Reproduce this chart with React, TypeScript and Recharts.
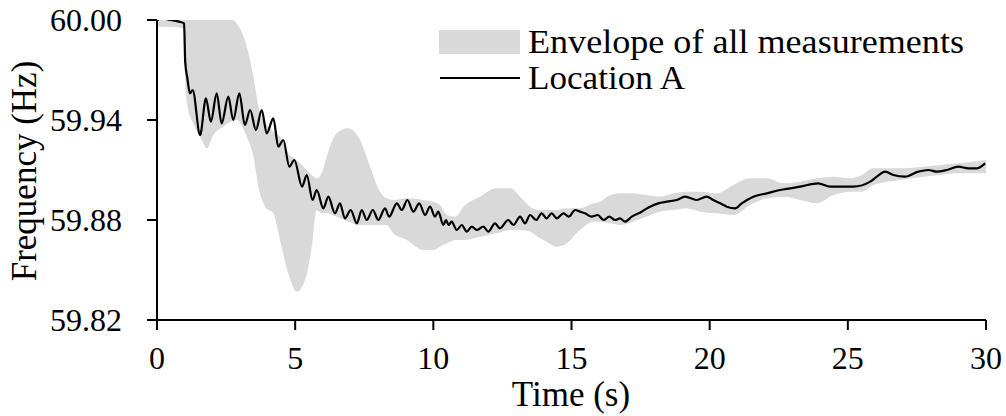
import { ComposedChart, Area, Line, XAxis, YAxis } from 'recharts';

// frequency trace recorded at one site (time in s, frequency in Hz)
const lineT = [
  0, 0.17, 0.5, 0.8, 0.98, 1.02, 1.1, 1.19, 1.29, 1.56, 1.77, 1.95, 2.16, 2.34, 2.58, 2.76, 2.98, 3.18, 3.37, 3.58,
  3.79, 3.97, 4.21, 4.39, 4.57, 4.79, 4.97, 5.25, 5.42, 5.63, 5.78, 6.02, 6.2, 6.44, 6.62, 6.8, 7.01, 7.23, 7.41, 7.59,
  7.81, 8.01, 8.25, 8.4, 8.68, 8.86, 9.06, 9.28, 9.49, 9.7, 9.88, 10.06, 10.18, 10.36, 10.46, 10.55, 10.66, 10.85, 11.03, 11.21,
  11.39, 11.57, 11.81, 11.99, 12.23, 12.41, 12.71, 12.9, 13.14, 13.32, 13.5, 13.72, 13.92, 14.1, 14.28, 14.47, 14.71, 14.9, 15.13, 15.31,
  15.49, 15.73, 15.95, 16.16, 16.37, 16.58, 16.75, 16.94, 17.18, 17.54, 17.84, 18.14, 18.45, 18.81, 19.11, 19.53, 19.89, 20.13, 20.38, 20.62,
  20.92, 21.16, 21.58, 22.07, 22.55, 22.91, 23.27, 23.93, 24.36, 24.72, 25.2, 25.81, 26.05, 26.35, 26.65, 27.07, 27.55, 27.92, 28.22, 28.58,
  29.0, 29.36, 29.66, 29.97,
];
const lineF = [
  60.0, 60.001, 60.0, 59.999, 59.998, 59.975, 59.965, 59.956, 59.958, 59.931, 59.953, 59.939, 59.956, 59.938, 59.954, 59.94, 59.956, 59.937, 59.946, 59.934,
  59.946, 59.932, 59.941, 59.924, 59.928, 59.912, 59.916, 59.9, 59.907, 59.892, 59.898, 59.887, 59.894, 59.884, 59.89, 59.881, 59.886, 59.878, 59.886, 59.88,
  59.886, 59.88, 59.887, 59.882, 59.89, 59.886, 59.892, 59.885, 59.89, 59.883, 59.888, 59.882, 59.885, 59.877, 59.88, 59.877, 59.879, 59.874, 59.877, 59.873,
  59.876, 59.874, 59.876, 59.873, 59.878, 59.875, 59.88, 59.877, 59.882, 59.878, 59.883, 59.88, 59.884, 59.881, 59.884, 59.881, 59.884, 59.882, 59.886, 59.885,
  59.884, 59.882, 59.883, 59.88, 59.882, 59.88, 59.881, 59.879, 59.882, 59.885, 59.888, 59.89, 59.891, 59.892, 59.894, 59.892, 59.894, 59.892, 59.89, 59.888,
  59.887, 59.89, 59.894, 59.896, 59.898, 59.899, 59.9, 59.902, 59.9, 59.9, 59.9, 59.903, 59.906, 59.909, 59.907, 59.906, 59.909, 59.91, 59.909, 59.91,
  59.912, 59.911, 59.911, 59.914,
];

// min / max over every measurement point
const envT = [
  0, 0.5, 0.98, 1.03, 1.13, 1.31, 1.62, 1.8, 2.04, 2.4, 2.88, 3.25, 3.49, 3.67, 3.91, 4.21, 4.45, 4.75, 5.06, 5.36,
  5.6, 5.78, 5.96, 6.14, 6.5, 6.92, 7.35, 7.71, 8.07, 8.3, 8.55, 9.04, 9.63, 10.0, 10.24, 10.5, 10.8, 11.09, 11.69, 12.29,
  12.78, 13.14, 13.5, 13.86, 14.1, 14.47, 14.83, 15.31, 15.79, 16.03, 16.4, 16.76, 17.24, 17.7, 18.2, 18.7, 19.17, 19.65, 20.26, 20.86,
  21.46, 22.07, 22.67, 23.27, 23.88, 24.48, 25.08, 25.5, 25.93, 26.89, 27.74, 28.34, 28.94, 29.54, 30,
];
const envLow = [
  59.996, 59.996, 59.995, 59.96, 59.946, 59.938, 59.928, 59.923, 59.931, 59.936, 59.94, 59.93, 59.918, 59.9, 59.888, 59.884, 59.868, 59.848, 59.837, 59.844,
  59.864, 59.886, 59.884, 59.884, 59.882, 59.879, 59.877, 59.877, 59.877, 59.877, 59.872, 59.868, 59.862, 59.862, 59.864, 59.866, 59.868, 59.868, 59.87, 59.872,
  59.874, 59.874, 59.873, 59.869, 59.867, 59.864, 59.866, 59.874, 59.879, 59.879, 59.878, 59.877, 59.879, 59.882, 59.885, 59.886, 59.887, 59.885, 59.884, 59.883,
  59.889, 59.893, 59.894, 59.892, 59.89, 59.895, 59.897, 59.897, 59.901, 59.904, 59.906, 59.907, 59.908, 59.908, 59.908,
];
const envHigh = [
  60.003, 60.003, 60.002, 60.003, 60.003, 60.003, 60.003, 60.003, 60.003, 60.003, 59.998, 59.984, 59.966, 59.948, 59.939, 59.933, 59.93, 59.92, 59.916, 59.911,
  59.907, 59.905, 59.908, 59.918, 59.932, 59.935, 59.928, 59.912, 59.897, 59.893, 59.892, 59.893, 59.892, 59.891, 59.889, 59.883, 59.882, 59.888, 59.894, 59.899,
  59.899, 59.894, 59.888, 59.886, 59.886, 59.886, 59.887, 59.887, 59.89, 59.891, 59.895, 59.896, 59.896, 59.895, 59.894, 59.896, 59.897, 59.897, 59.896, 59.901,
  59.905, 59.905, 59.902, 59.903, 59.905, 59.906, 59.905, 59.907, 59.911, 59.911, 59.912, 59.913, 59.914, 59.915, 59.916,
];

const xTicks = [0, 5, 10, 15, 20, 25, 30];
const yTicks = [59.82, 59.88, 59.94, 60.0];

const FONT = 'Liberation Serif, DejaVu Serif, serif';

const envRows = envT.map((t, i) => ({ t, band: [envLow[i], envHigh[i]] }));
const lineRows = lineT.map((t, i) => ({ t, f: lineF[i] }));

export default function App() {
  const tickStyle = { fill: '#000', fontSize: 32, style: { fontFamily: FONT } };
  return (
    <div style={{ position: 'absolute', left: 0, top: 0, width: 1006, height: 416, background: '#fff', fontFamily: FONT }}>
      <ComposedChart width={1006} height={416} margin={{ top: 20, right: 20, left: 0, bottom: 0 }}>
        <XAxis
          type="number"
          dataKey="t"
          domain={[0, 30]}
          ticks={xTicks}
          allowDataOverflow
          height={96}
          tickSize={10}
          tickMargin={16}
          tick={tickStyle}
          stroke="#000"
          strokeWidth={2}
          tickFormatter={(v) => String(v)}
        />
        <YAxis
          type="number"
          domain={[59.82, 60.0]}
          ticks={yTicks}
          allowDataOverflow
          width={157}
          tickSize={10}
          tickMargin={25}
          tick={tickStyle}
          stroke="#000"
          strokeWidth={2}
          tickFormatter={(v) => v.toFixed(2)}
        />
        <Area
          data={envRows}
          dataKey="band"
          type="monotone"
          stroke="none"
          fill="#d9d9d9"
          fillOpacity={1}
          isAnimationActive={false}
        />
        <Line
          data={lineRows}
          dataKey="f"
          type="monotone"
          stroke="#000"
          strokeWidth={2.2}
          dot={false}
          isAnimationActive={false}
        />
      </ComposedChart>

      {/* legend and axis titles */}
      <svg
        width={1006}
        height={416}
        style={{ position: 'absolute', left: 0, top: 0, pointerEvents: 'none', fontFamily: FONT }}
      >
        <rect x={439} y={30} width={81} height={24} fill="#d9d9d9" />
        <text x={528} y={53} fontSize={34} fill="#000" textLength={436} lengthAdjust="spacingAndGlyphs">
          Envelope of all measurements
        </text>
        <line x1={440} x2={520} y1={78} y2={78} stroke="#000" strokeWidth={2} />
        <text x={528} y={89} fontSize={34} fill="#000" textLength={157} lengthAdjust="spacingAndGlyphs">
          Location A
        </text>
        <text x={571} y={406} fontSize={35} fill="#000" textAnchor="middle">Time (s)</text>
        <text
          x={0}
          y={0}
          fontSize={35}
          fill="#000"
          textAnchor="middle"
          transform="translate(36,171) rotate(-90)"
        >
          Frequency (Hz)
        </text>
      </svg>
    </div>
  );
}
